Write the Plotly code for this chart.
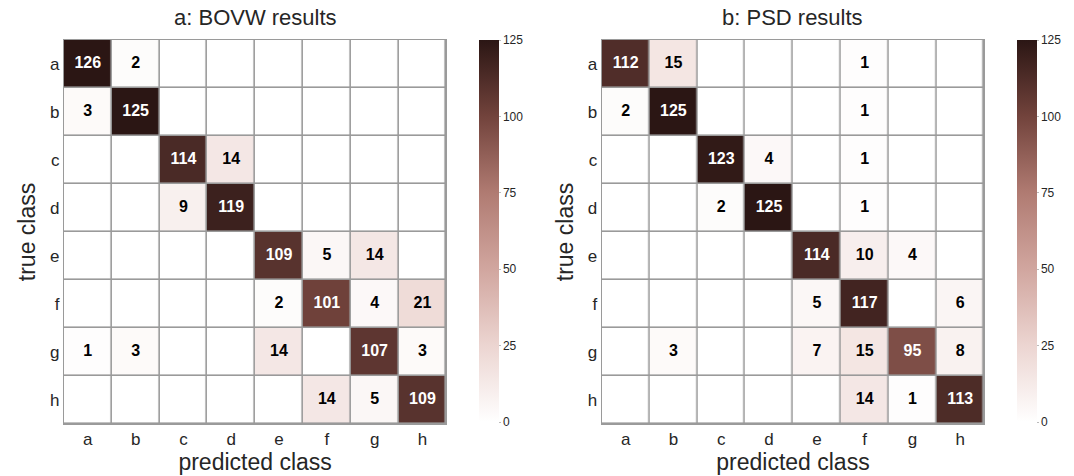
import plotly.graph_objects as go

classes = ["a", "b", "c", "d", "e", "f", "g", "h"]

bovw = [
    [126, 2, 0, 0, 0, 0, 0, 0],
    [3, 125, 0, 0, 0, 0, 0, 0],
    [0, 0, 114, 14, 0, 0, 0, 0],
    [0, 0, 9, 119, 0, 0, 0, 0],
    [0, 0, 0, 0, 109, 5, 14, 0],
    [0, 0, 0, 0, 2, 101, 4, 21],
    [1, 3, 0, 0, 14, 0, 107, 3],
    [0, 0, 0, 0, 0, 14, 5, 109],
]

psd = [
    [112, 15, 0, 0, 0, 1, 0, 0],
    [2, 125, 0, 0, 0, 1, 0, 0],
    [0, 0, 123, 4, 0, 1, 0, 0],
    [0, 0, 2, 125, 0, 1, 0, 0],
    [0, 0, 0, 0, 114, 10, 4, 0],
    [0, 0, 0, 0, 5, 117, 0, 6],
    [0, 3, 0, 0, 7, 15, 95, 8],
    [0, 0, 0, 0, 0, 14, 1, 113],
]

titles = ["a: BOVW results", "b: PSD results"]
cbar_ticks = [0, 25, 50, 75, 100, 125]

colorscale = [
    [0.0, "#ffffff"],
    [0.2, "#ecd5d1"],
    [0.4, "#d1a69f"],
    [0.6, "#b07b72"],
    [0.8, "#72433c"],
    [1.0, "#2b1614"],
]

W, H = 1074, 476
ML, MR, MT, MB = 40, 40, 40, 52
PW, PH = W - ML - MR, H - MT - MB
FONT = "Liberation Sans, Arial, sans-serif"
GRID = "#9a9a9a"
TXT = "#262626"


def px_x(px):
    return (px - ML) / PW


def px_y(py):
    return (H - MB - py) / PH


fig = go.Figure()

panels = [
    dict(mat=bovw, x0=64, x1=448, cbx=481, xa="x", ya="y"),
    dict(mat=psd, x0=604, x1=988, cbx=1021, xa="x2", ya="y2"),
]

for i, p in enumerate(panels):
    fig.add_trace(go.Heatmap(
        z=p["mat"], x=classes, y=classes,
        colorscale=colorscale, zmin=0, zmax=125,
        xgap=1.6, ygap=1.6,
        xaxis=p["xa"], yaxis=p["ya"],
        colorbar=dict(
            x=px_x(p["cbx"]), xanchor="left", xpad=0, ypad=0,
            y=px_y(40), yanchor="top", len=(422 - 40) / PH,
            thickness=20, outlinewidth=0,
            tickvals=cbar_ticks, ticks="outside", ticklen=2, tickcolor="#bbbbbb",
            tickfont=dict(family=FONT, size=12, color=TXT),
        ),
    ))
    xs, ys, ts, cs = [], [], [], []
    for r, row in enumerate(p["mat"]):
        for c, v in enumerate(row):
            if v != 0:
                xs.append(classes[c])
                ys.append(classes[r])
                ts.append(str(v))
                cs.append("white" if v > 62 else "black")
    fig.add_trace(go.Scatter(
        x=xs, y=ys, text=ts, mode="text", hoverinfo="skip", showlegend=False,
        textfont=dict(family=FONT, size=16, color=cs, weight="bold"),
        xaxis=p["xa"], yaxis=p["ya"],
    ))

axis_common = dict(
    showline=True, mirror=True, linecolor=GRID, linewidth=1, automargin=False,
    showgrid=False, zeroline=False, ticks="",
    tickfont=dict(family=FONT, size=17, color=TXT),
)

xtitle = dict(text="predicted class", font=dict(size=23, color=TXT), standoff=2)
ytitle = dict(text="true class", font=dict(size=23, color=TXT), standoff=7)

fig.update_layout(
    width=W, height=H, margin=dict(l=ML, r=MR, t=MT, b=MB),
    paper_bgcolor="white", plot_bgcolor=GRID, showlegend=False,
    font=dict(family=FONT, color=TXT),
    xaxis=dict(domain=[px_x(64), px_x(448)], anchor="y", title=xtitle, **axis_common),
    yaxis=dict(domain=[0, 1], anchor="x", autorange="reversed", title=ytitle, **axis_common),
    xaxis2=dict(domain=[px_x(604), px_x(988)], anchor="y2", title=xtitle, **axis_common),
    yaxis2=dict(domain=[0, 1], anchor="x2", autorange="reversed", title=ytitle, **axis_common),
)

for i, p in enumerate(panels):
    fig.add_annotation(
        text=titles[i], xref="paper", yref="paper",
        x=px_x((p["x0"] + p["x1"]) / 2), y=px_y(18),
        xanchor="center", yanchor="middle",
        showarrow=False, font=dict(family=FONT, size=22, color=TXT),
    )

fig.write_html(
    "out.html",
    config={"displayModeBar": False},
    post_script="document.body.style.margin='0';document.body.style.overflow='hidden';",
)
